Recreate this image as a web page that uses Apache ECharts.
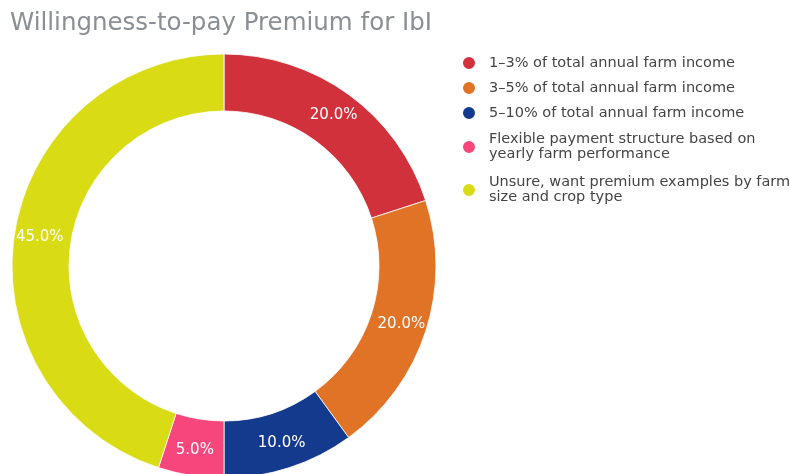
<!DOCTYPE html>
<html>
<head>
<meta charset="utf-8">
<script src="https://cdn.jsdelivr.net/npm/echarts@6/dist/echarts.min.js"></script>
<style>
  html, body { margin: 0; padding: 0; background: #fff; }
  #main { width: 790px; height: 474px; }
</style>
</head>
<body>
<div id="main"></div>
<script>
// 数据
const categories = [
  '1\u20133% of total annual farm income',
  '3\u20135% of total annual farm income',
  '5\u201310% of total annual farm income',
  'Flexible payment structure based on\nyearly farm performance',
  'Unsure, want premium examples by farm\nsize and crop type'
];
const shares = [20, 20, 10, 5, 45];
const colors = ['#d0313a', '#e07326', '#133a8c', '#f7467c', '#d9db14'];

let chartDom = document.getElementById('main');
let myChart = echarts.init(chartDom);

const font = '"DejaVu Sans", Verdana, sans-serif';

let option = {
  title: {
    text: 'Willingness-to-pay Premium for IbI',
    left: 5,
    top: 6,
    textStyle: { fontFamily: font, fontSize: 24.5, fontWeight: 'normal', color: '#8a8f95' }
  },
  legend: {
    orient: 'vertical',
    left: 456,
    top: 50,
    icon: 'circle',
    itemWidth: 14,
    itemHeight: 14,
    itemGap: 9,
    textStyle: { fontFamily: font, fontSize: 14.5, color: '#444', lineHeight: 14.5, padding: [0, 0, 0, 8] },
    data: categories.map(function (c) {
      return c.indexOf('\n') >= 0
        ? { name: c, textStyle: { fontFamily: font, fontSize: 14.5, color: '#444', lineHeight: 15, padding: [4, 0, 0, 8] } }
        : { name: c };
    })
  },
  series: [
    {
      type: 'pie',
      center: [224, 266],
      radius: [155, 212],
      startAngle: 90,
      clockwise: true,
      avoidLabelOverlap: false,
      itemStyle: { borderColor: '#fff', borderWidth: 0.8 },
      label: {
        show: true,
        position: 'inside',
        fontFamily: font,
        fontSize: 15,
        color: '#fff',
        formatter: function (p) { return p.value.toFixed(1) + '%'; }
      },
      labelLine: { show: false },
      data: categories.map(function (c, i) {
        return { name: c, value: shares[i], itemStyle: { color: colors[i] } };
      })
    }
  ]
};
myChart.setOption(option);
</script>
</body>
</html>
